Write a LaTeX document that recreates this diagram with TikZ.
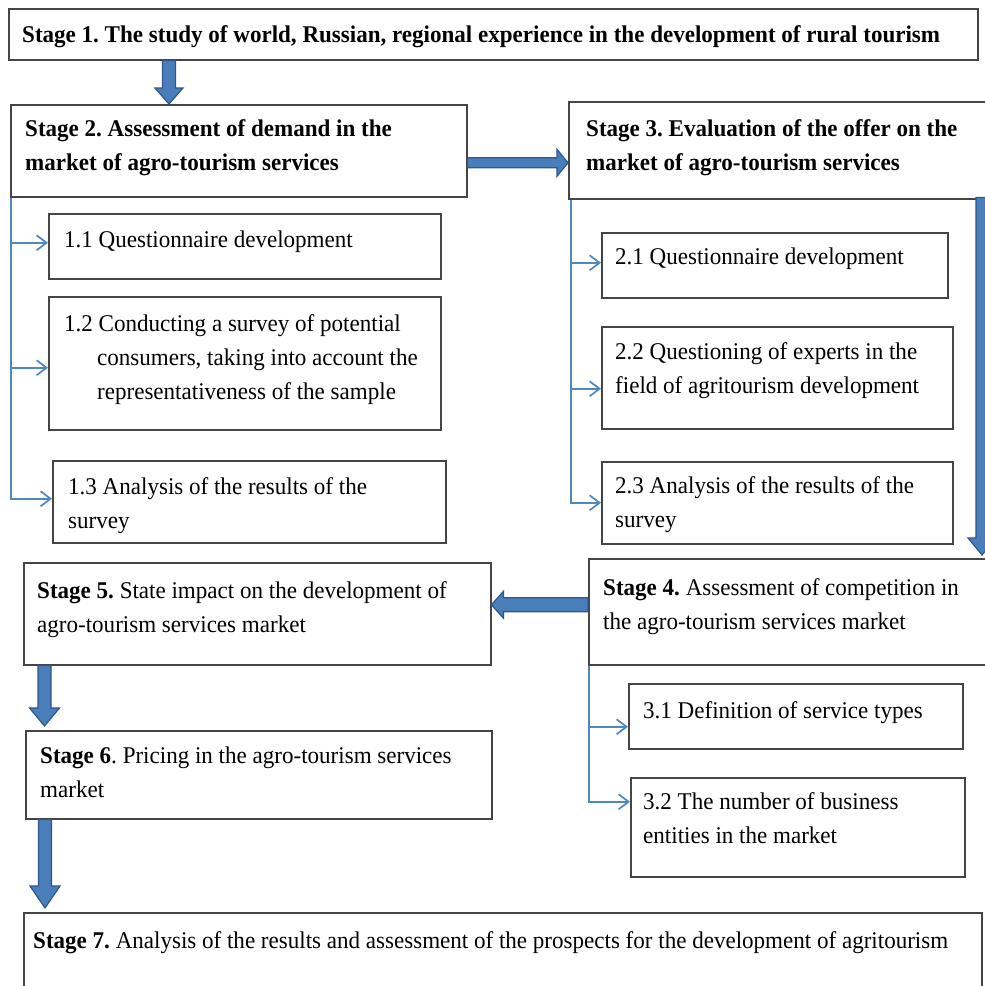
\documentclass[tikz,border=0pt]{standalone}
\usepackage{fontspec}
\setmainfont{Liberation Serif}[FakeStretch=0.96]
\usetikzlibrary{arrows.meta,calc}
\definecolor{boxline}{HTML}{454545}
\definecolor{arrfill}{HTML}{4A7EBB}
\definecolor{arrline}{HTML}{30578A}
\definecolor{connc}{HTML}{4F86C6}
\tikzset{
 box/.style={draw=boxline, line width=1.5pt, inner sep=0pt, anchor=north west},
 txt/.style={inner sep=0pt, anchor=north west, align=left, font=\fontsize{24}{34}\selectfont},
 link/.style={draw=connc, line width=1.7pt, -{Straight Barb[length=10pt,width=15pt,line width=1.7pt]}},
 blk/.style={fill=arrfill, draw=arrline, line width=1.2pt, line join=miter},
}
% down block arrow: start, end, shaft half, head half, head length
\newcommand\dblk[5]{\path[blk] let \p1=(#1), \p2=(#2) in
  (\x1-#3pt,\y1) -- (\x1+#3pt,\y1) -- (\x1+#3pt,\y2+#5pt) -- (\x1+#4pt,\y2+#5pt) -- (\x1,\y2)
  -- (\x1-#4pt,\y2+#5pt) -- (\x1-#3pt,\y2+#5pt) -- cycle;}
\newcommand\rblk[5]{\path[blk] let \p1=(#1), \p2=(#2) in
  (\x1,\y1+#3pt) -- (\x2-#5pt,\y1+#3pt) -- (\x2-#5pt,\y1+#4pt) -- (\x2,\y1)
  -- (\x2-#5pt,\y1-#4pt) -- (\x2-#5pt,\y1-#3pt) -- (\x1,\y1-#3pt) -- cycle;}
\newcommand\lblk[5]{\path[blk] let \p1=(#1), \p2=(#2) in
  (\x1,\y1+#3pt) -- (\x2+#5pt,\y1+#3pt) -- (\x2+#5pt,\y1+#4pt) -- (\x2,\y1)
  -- (\x2+#5pt,\y1-#4pt) -- (\x2+#5pt,\y1-#3pt) -- (\x1,\y1-#3pt) -- cycle;}
\frenchspacing
\begin{document}
\begin{tikzpicture}[x=1pt,y=-1pt]
\useasboundingbox (0,0) rectangle (985,986);
\clip (0,0) rectangle (985,986);
\fill[white] (0,0) rectangle (985,986);
% boxes
\node[box, minimum width=969pt, minimum height=51pt] (s1) at (8,8) {};
\node[box, minimum width=456pt, minimum height=92pt] (s2) at (10,104) {};
\node[box, minimum width=430pt, minimum height=97pt] (s3) at (568,101) {};
\node[box, minimum width=392pt, minimum height=65pt] (b11) at (48,213) {};
\node[box, minimum width=392pt, minimum height=133pt] (b12) at (48,296) {};
\node[box, minimum width=393pt, minimum height=82pt] (b13) at (52,460) {};
\node[box, minimum width=346pt, minimum height=65pt] (b21) at (601,232) {};
\node[box, minimum width=351pt, minimum height=102pt] (b22) at (601,326) {};
\node[box, minimum width=351pt, minimum height=82pt] (b23) at (601,461) {};
\node[box, minimum width=410pt, minimum height=106pt] (s4) at (588,558) {};
\node[box, minimum width=467pt, minimum height=102pt] (s5) at (23,562) {};
\node[box, minimum width=466pt, minimum height=88pt] (s6) at (25,730) {};
\node[box, minimum width=334pt, minimum height=65pt] (b31) at (628,683) {};
\node[box, minimum width=334pt, minimum height=99pt] (b32) at (630,777) {};
\node[box, minimum width=958pt, minimum height=90pt] (s7) at (23,912) {};
% texts
\node[txt] (t1) at ($(s1.north west)+(14,17)$) {\textbf{Stage 1. The study of world, Russian, regional experience in the development of rural tourism}};
\node[txt] (t2) at ($(s2.north west)+(15,15)$) {\textbf{Stage 2. Assessment of demand in the}\\\textbf{market of agro-tourism services}};
\node[txt] (t3) at ($(s3.north west)+(18,18)$) {\textbf{Stage 3. Evaluation of the offer on the}\\\textbf{market of agro-tourism services}};
\node[txt] (t11) at ($(b11.north west)+(16,18)$) {1.1 Questionnaire development};
\node[txt] (t12) at ($(b12.north west)+(16,18)$) {1.2 Conducting a survey of potential\\\hspace*{33pt}consumers, taking into account the\\\hspace*{33pt}representativeness of the sample};
\node[txt] (t13) at ($(b13.north west)+(16,17)$) {1.3 Analysis of the results of the\\survey};
\node[txt] (t21) at ($(b21.north west)+(14,16)$) {2.1 Questionnaire development};
\node[txt] (t22) at ($(b22.north west)+(14,16)$) {2.2 Questioning of experts in the\\field of agritourism development};
\node[txt] (t23) at ($(b23.north west)+(14,15)$) {2.3 Analysis of the results of the\\survey};
\node[txt] (t4) at ($(s4.north west)+(15,20)$) {\textbf{Stage 4.} Assessment of competition in\\the agro-tourism services market};
\node[txt] (t5) at ($(s5.north west)+(14,19)$) {\textbf{Stage 5.} State impact on the development of\\agro-tourism services market};
\node[txt] (t6) at ($(s6.north west)+(15,17)$) {\textbf{Stage 6}. Pricing in the agro-tourism services\\market};
\node[txt] (t31) at ($(b31.north west)+(15,18)$) {3.1 Definition of service types};
\node[txt] (t32) at ($(b32.north west)+(13,15)$) {3.2 The number of business\\entities in the market};
\node[txt] (t7) at ($(s7.north west)+(10,19)$) {\textbf{Stage 7.} Analysis of the results and assessment of the prospects for the development of agritourism};
% thin connectors
\draw[link] ($(s2.south west)+(1,0)$) |- ($(b11.west)+(0,-3.5)$);
\draw[link] ($(s2.south west)+(1,0)$) |- ($(b12.west)+(0,4.5)$);
\draw[link] ($(s2.south west)+(1,0)$) |- ($(b13.west)+(0,-3)$);
\draw[link] ($(s3.south west)+(3,0)$) |- ($(b21.west)+(0,-2.5)$);
\draw[link] ($(s3.south west)+(3,0)$) |- ($(b22.west)+(0,11)$);
\draw[link] ($(s3.south west)+(3,0)$) |- (b23.west);
\draw[link] ($(s4.south west)+(1,0)$) |- ($(b31.west)+(0,10.5)$);
\draw[link] ($(s4.south west)+(1,0)$) |- ($(b32.west)+(0,-25.5)$);
% block arrows
\coordinate (a12s) at ($(s1.south west)+(161,0)$);
\coordinate (a12e) at (a12s |- s2.north);
\dblk{a12s}{a12e}{6.5}{14}{16}
\coordinate (a23s) at ($(s2.east)+(0,12)$);
\coordinate (a23e) at (s3.west |- a23s);
\rblk{a23s}{a23e}{5}{13.5}{11}
\coordinate (a34s) at ($(s3.south west)+(414,-2)$);
\coordinate (a34e) at ($(a34s |- s4.north)+(0,-3)$);
\dblk{a34s}{a34e}{6}{14}{17}
\coordinate (a45s) at ($(s4.west)+(0,-7)$);
\coordinate (a45e) at (s5.east |- a45s);
\lblk{a45s}{a45e}{7}{13.5}{12}
\coordinate (a56s) at ($(s5.south west)+(21.5,0)$);
\coordinate (a56e) at ($(a56s |- s6.north)+(0,-4)$);
\dblk{a56s}{a56e}{6.5}{15}{18}
\coordinate (a67s) at ($(s6.south west)+(20,0)$);
\coordinate (a67e) at ($(a67s |- s7.north)+(0,-4)$);
\dblk{a67s}{a67e}{6.5}{15}{22}
\end{tikzpicture}
\end{document}
